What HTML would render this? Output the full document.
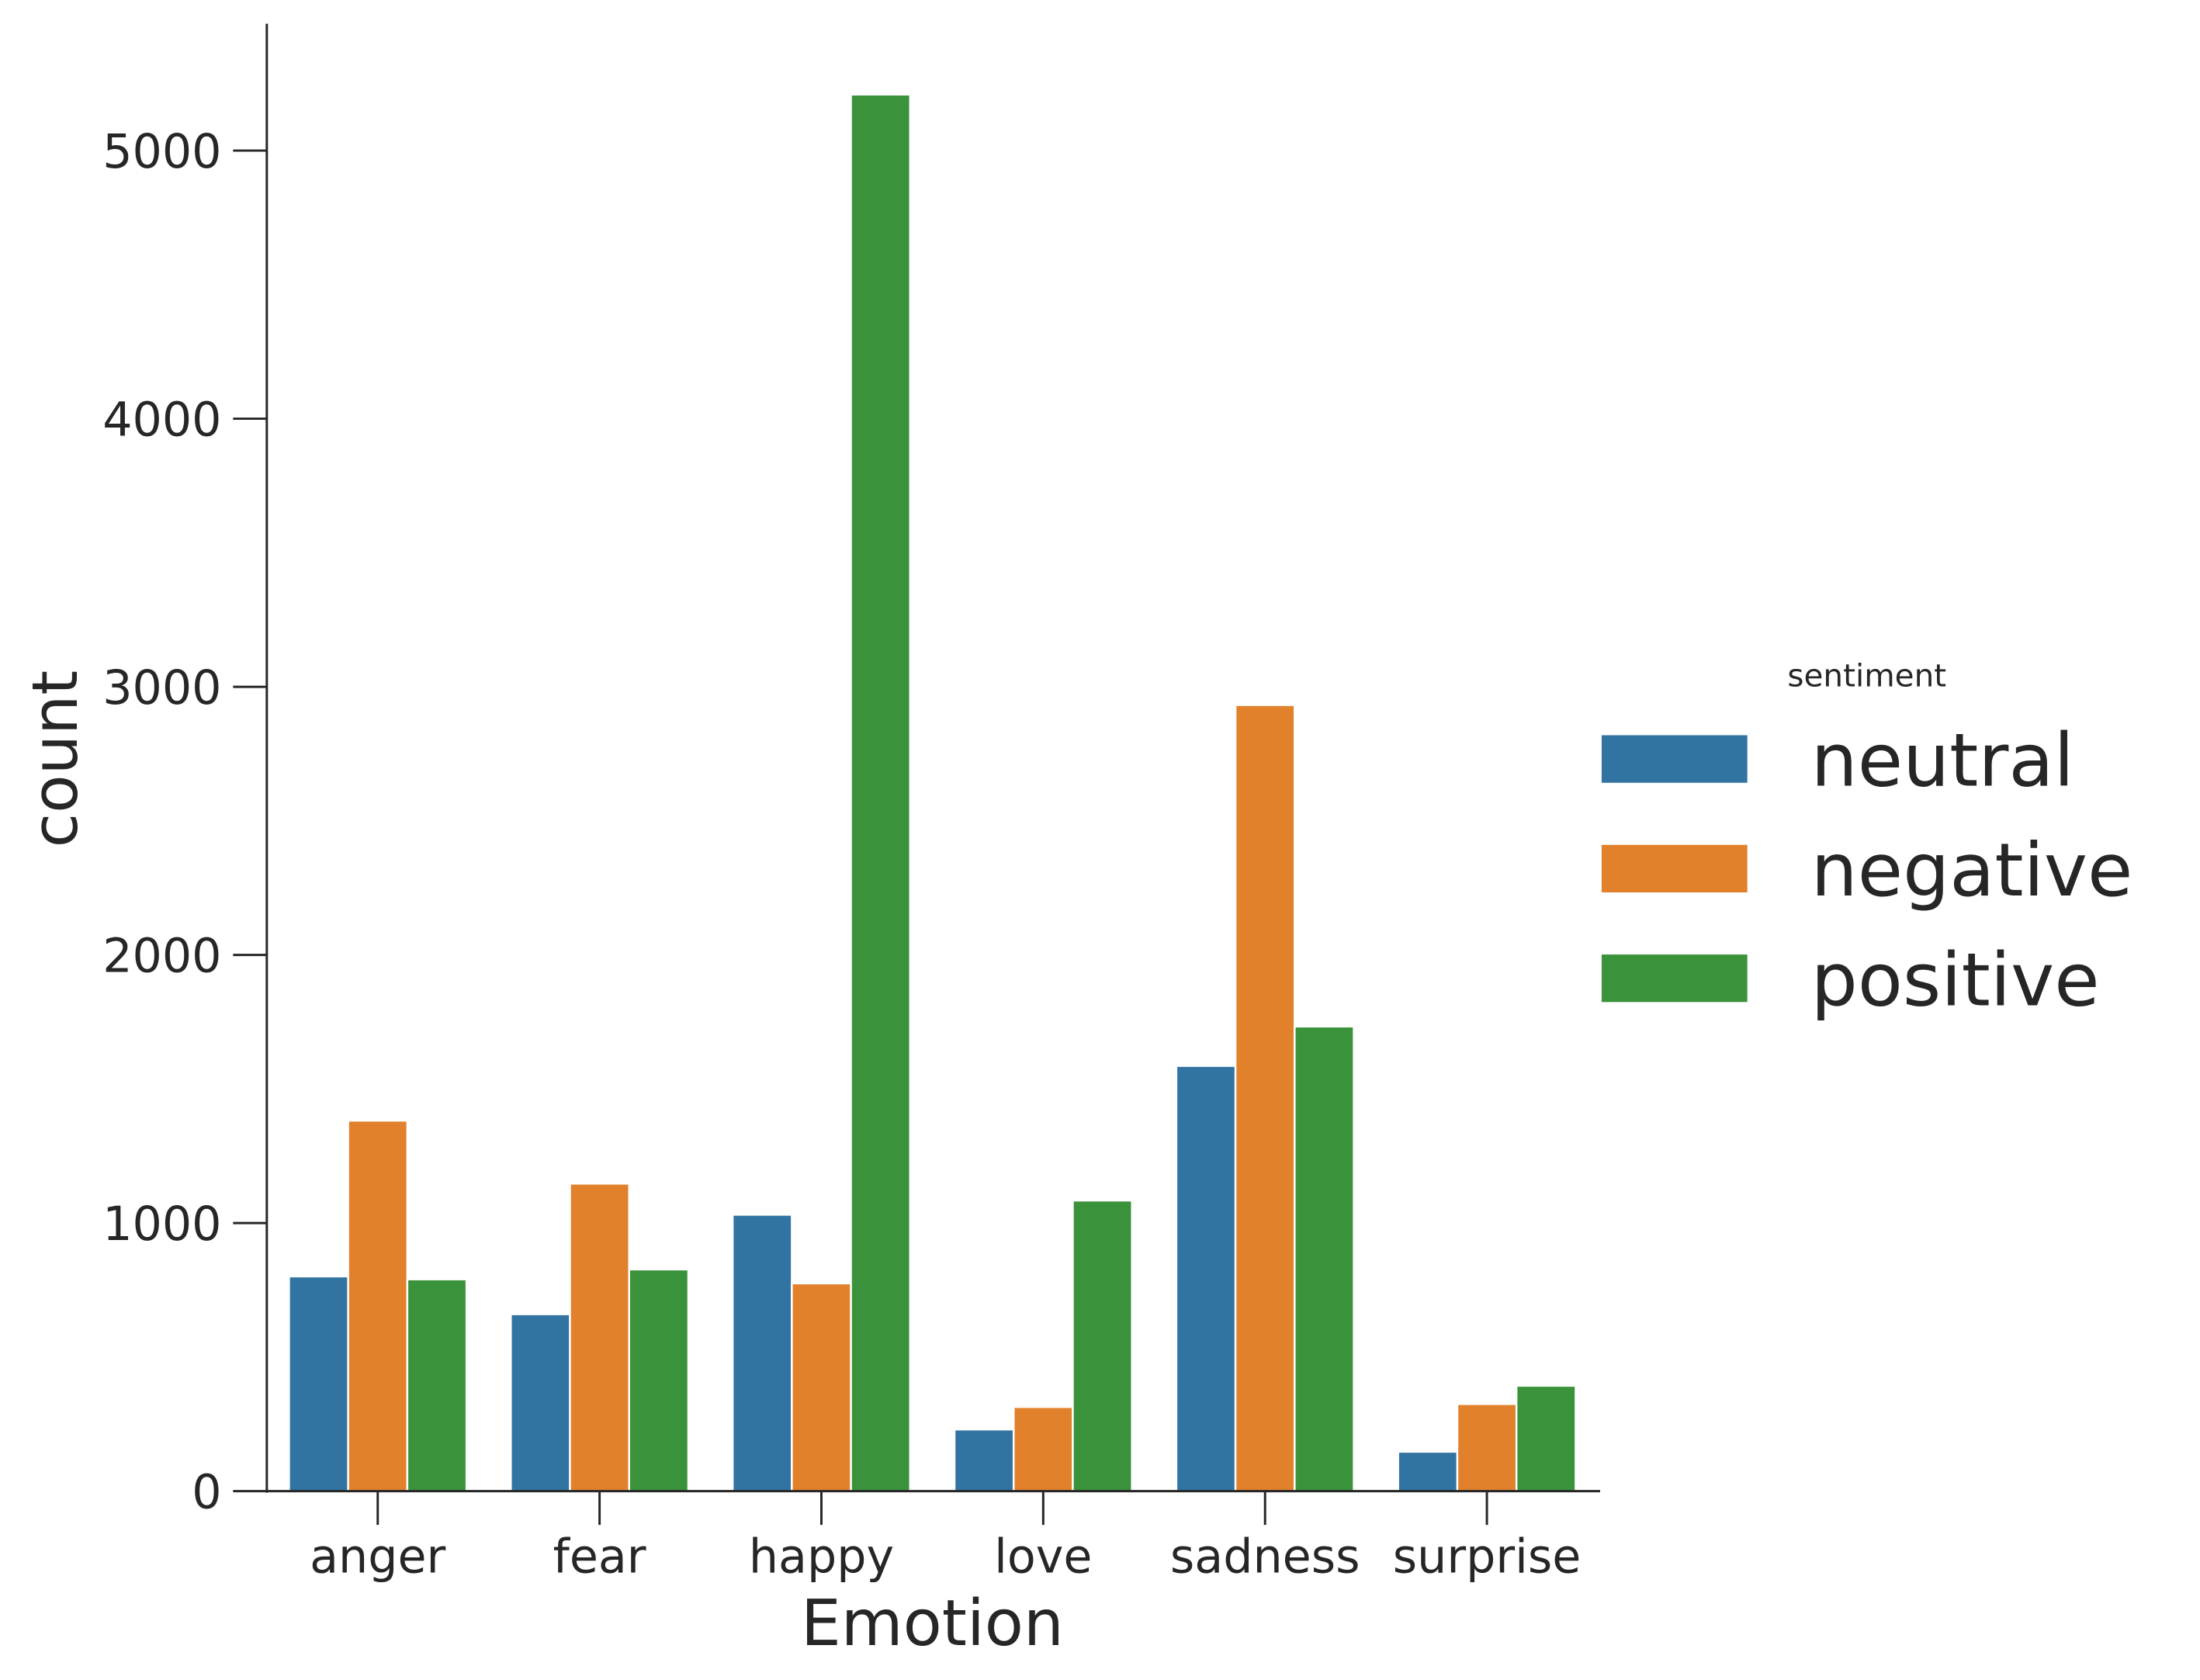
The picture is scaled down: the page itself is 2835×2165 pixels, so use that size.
<!DOCTYPE html>
<html><head><meta charset="utf-8"><style>
html,body{margin:0;padding:0;background:#fff;}
svg{display:block;font-family:"DejaVu Sans","Liberation Sans",sans-serif;}
</style></head><body>
<svg id="chart" width="2835" height="2165" viewBox="0 0 2835 2165" xmlns="http://www.w3.org/2000/svg">
<g transform="scale(0.988)">
<g id="bars"></g>
<g id="axes"></g>
<g id="legend"></g>
</g>
</svg>
<script>
const categories = ["anger","fear","happy","love","sadness","surprise"];
const seriesNames = ["neutral","negative","positive"];
const neutralValues = [801,660,1031,230,1586,147];
const negativeValues = [1382,1147,775,314,2932,325];
const positiveValues = [790,827,5209,1084,1733,393];
const yTicks = [0,1000,2000,3000,4000,5000];
const colors = ["#3274a1","#e1812c","#3a923a"];

const NS="http://www.w3.org/2000/svg";
const plotLeft=348, plotRight=2084, baseY=1945, topY=31, yMax=5473;
const step=(plotRight-plotLeft)/categories.length;
function xScale(i){return plotLeft+step*(i+0.5);}
function yScale(v){return baseY-(v/yMax)*(baseY-topY);}
function mk(tag,attrs,parent){const e=document.createElementNS(NS,tag);for(const k in attrs)e.setAttribute(k,attrs[k]);parent.appendChild(e);return e;}

const series=[neutralValues,negativeValues,positiveValues];
const barsG=document.getElementById('bars');
const bw=step*0.8/3;
series.forEach((vals,s)=>{
  vals.forEach((v,i)=>{
    const x=xScale(i)-step*0.4+s*bw;
    const r=mk('rect',{x:x,y:yScale(v),width:bw,height:baseY-yScale(v),fill:colors[s],stroke:'#fff','stroke-width':2.5},barsG);
    
    
  });
});

const ax=document.getElementById('axes');
const ySpine=mk('line',{x1:plotLeft,y1:topY,x2:plotLeft,y2:baseY+2,stroke:'#262626','stroke-width':3},ax);


const xSpine=mk('line',{x1:plotLeft-1,y1:baseY,x2:plotRight+3,y2:baseY,stroke:'#262626','stroke-width':3},ax);


yTicks.forEach(t=>{
  const y=yScale(t);
  const tk=mk('line',{x1:plotLeft-44,y1:y,x2:plotLeft,y2:y,stroke:'#262626','stroke-width':3},ax);
  
  
  const tx=mk('text',{x:289,y:y+22,'text-anchor':'end','font-size':61,fill:'#262626'},ax);
  tx.textContent=t;
  
  
});
categories.forEach((c,i)=>{
  const x=xScale(i);
  const tk=mk('line',{x1:x,y1:baseY,x2:x,y2:baseY+44,stroke:'#262626','stroke-width':3},ax);
  
  
  const tx=mk('text',{x:x,y:2051,'text-anchor':'middle','font-size':61,fill:'#262626'},ax);
  tx.textContent=c;
  
  
});
const xt=mk('text',{x:1216,y:2146,'text-anchor':'middle','font-size':83,fill:'#262626'},ax);
xt.textContent='Emotion';


const yt=mk('text',{x:0,y:0,'text-anchor':'middle','font-size':82,fill:'#262626',transform:'translate(100,990) rotate(-90)'},ax);
yt.textContent='count';



const lg=document.getElementById('legend');
const lt=mk('text',{x:2435,y:895,'text-anchor':'middle','font-size':41,fill:'#262626'},lg);
lt.textContent='sentiment';


seriesNames.forEach((n,s)=>{
  const y=959+s*143;
  const p=mk('rect',{x:2089,y:y,width:190,height:62,fill:colors[s]},lg);
  
  
  const t=mk('text',{x:2362,y:y+66,'font-size':96,fill:'#262626'},lg);
  t.textContent=n;
  
  
});
</script>
</body></html>
